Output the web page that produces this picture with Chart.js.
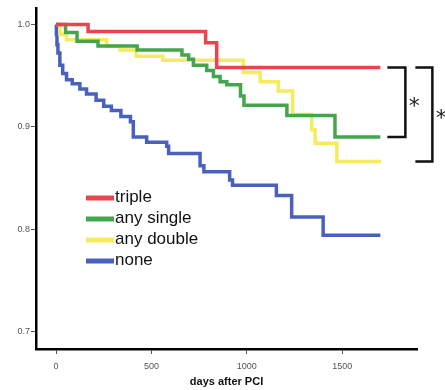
<!DOCTYPE html>
<html>
<head>
<meta charset="utf-8">
<script src="https://cdn.jsdelivr.net/npm/chart.js@4/dist/chart.umd.min.js"></script>
<style>
    body { margin: 0; background: #fff; }
    canvas { display: block; }
</style>
</head>
<body>
<canvas id="km" width="445" height="390"></canvas>
<script>
// step points: [day, survival after the step]
var tripleData = [[0, 1.0], [168, 0.993], [784, 0.982], [842, 0.958], [1700, 0.958]];
var singleData = [[0, 1.0], [50, 0.992], [110, 0.9835], [220, 0.979], [425, 0.975], [660, 0.970], [695, 0.966],
    [720, 0.960], [790, 0.955], [825, 0.949], [860, 0.944], [895, 0.941], [967, 0.930], [985, 0.921],
    [1210, 0.911], [1462, 0.890], [1700, 0.890]];
var doubleData = [[0, 1.0], [20, 0.990], [55, 0.985], [265, 0.979], [335, 0.975], [420, 0.969], [560, 0.965],
    [982, 0.953], [1070, 0.944], [1165, 0.935], [1240, 0.912], [1340, 0.897], [1358, 0.884], [1472, 0.866],
    [1705, 0.866]];
var noneData = [[0, 1.0], [2, 0.990], [5, 0.980], [10, 0.972], [20, 0.960], [35, 0.952], [55, 0.946], [85, 0.942],
    [125, 0.937], [160, 0.932], [210, 0.926], [250, 0.920], [290, 0.916], [340, 0.910], [390, 0.905],
    [405, 0.890], [475, 0.885], [580, 0.881], [590, 0.874], [755, 0.862], [775, 0.856], [910, 0.848],
    [925, 0.843], [1155, 0.833], [1235, 0.812], [1400, 0.794], [1700, 0.794]];

var seriesNames = ["triple", "any single", "any double", "none"];
var seriesColors = ["#e8464f", "#44a64c", "#f4ec5c", "#4961bd"];
var xTicks = [0, 500, 1000, 1500];
var yTicks = [0.7, 0.8, 0.9, 1.0];
var xTitle = "days after PCI";

function toPoints(arr) {
    return arr.map(function (p) { return {x: p[0], y: p[1]}; });
}

var allSeries = [tripleData, singleData, doubleData, noneData];

var legendAndBrackets = {
    id: "legendAndBrackets",
    afterDatasetsDraw: function (chart) {
        var ctx = chart.ctx;
        var xs = chart.scales.x;
        var ys = chart.scales.y;
        ctx.save();

        // legend
        ctx.font = "17px 'Liberation Sans', Arial, sans-serif";
        ctx.textBaseline = "middle";
        ctx.textAlign = "left";
        seriesNames.forEach(function (name, i) {
            var y = 198 + 21 * i;
            ctx.strokeStyle = seriesColors[i];
            ctx.lineWidth = 5;
            ctx.beginPath();
            ctx.moveTo(86, y);
            ctx.lineTo(114, y);
            ctx.stroke();
            ctx.fillStyle = "#111";
            ctx.fillText(name, 115, y - 1);
        });

        // significance brackets
        var endX = xs.getPixelForValue(1700);
        var yRed = ys.getPixelForValue(tripleData[tripleData.length - 1][1]);
        var yGreen = ys.getPixelForValue(singleData[singleData.length - 1][1]);
        var yYellow = ys.getPixelForValue(doubleData[doubleData.length - 1][1]);
        ctx.strokeStyle = "#111";
        ctx.lineWidth = 2.5;
        ctx.beginPath();
        ctx.moveTo(endX + 7, yRed);
        ctx.lineTo(endX + 25, yRed);
        ctx.lineTo(endX + 25, yGreen);
        ctx.lineTo(endX + 7, yGreen);
        ctx.stroke();
        ctx.beginPath();
        ctx.moveTo(endX + 35, yRed);
        ctx.lineTo(endX + 52, yRed);
        ctx.lineTo(endX + 52, yYellow);
        ctx.lineTo(endX + 35, yYellow);
        ctx.stroke();
        ctx.fillStyle = "#222";
        ctx.font = "22px 'DejaVu Sans', sans-serif";
        ctx.textAlign = "center";
        ctx.fillText("*", endX + 34, (yRed + yGreen) / 2 + 5);
        ctx.fillText("*", endX + 61, (yRed + yYellow) / 2 + 5);
        ctx.restore();
    }
};

var chart = new Chart(document.getElementById("km"), {
    type: "line",
    data: {
        datasets: allSeries.map(function (s, i) {
            return {
                label: seriesNames[i],
                data: toPoints(s),
                borderColor: seriesColors[i],
                borderWidth: 3.5,
                stepped: true,
                pointRadius: 0,
                fill: false
            };
        })
    },
    options: {
        responsive: false,
        animation: false,
        layout: { padding: { top: 8, right: 28, left: 0, bottom: 0 } },
        plugins: { legend: { display: false }, tooltip: { enabled: false } },
        scales: {
            x: {
                type: "linear",
                min: -105,
                max: 1892,
                afterBuildTicks: function (scale) {
                    scale.ticks = xTicks.map(function (v) { return {value: v}; });
                },
                afterFit: function (scale) { scale.height = 41; },
                border: { display: true, color: "#000", width: 2.5 },
                grid: { drawOnChartArea: false, drawTicks: true, tickLength: 5, color: "#555" },
                ticks: {
                    color: "#555",
                    font: { size: 9, family: "'Liberation Sans', Arial, sans-serif" },
                    padding: 7,
                    maxRotation: 0,
                    callback: function (v) { return String(v); }
                },
                title: {
                    display: true,
                    text: xTitle,
                    color: "#111",
                    font: { size: 11, weight: "bold", family: "'Liberation Sans', Arial, sans-serif" },
                    padding: { top: 0, bottom: 1 }
                }
            },
            y: {
                type: "linear",
                min: 0.683,
                max: 1.016,
                afterBuildTicks: function (scale) {
                    scale.ticks = yTicks.map(function (v) { return {value: v}; });
                },
                afterFit: function (scale) { scale.width = 36; },
                border: { display: true, color: "#000", width: 2.5 },
                grid: { drawOnChartArea: false, drawTicks: true, tickLength: 5, color: "#555" },
                ticks: {
                    color: "#555",
                    font: { size: 9, family: "'Liberation Sans', Arial, sans-serif" },
                    padding: 1,
                    callback: function (v) { return v.toFixed(1); }
                }
            }
        }
    },
    plugins: [legendAndBrackets]
});
</script>
</body>
</html>
